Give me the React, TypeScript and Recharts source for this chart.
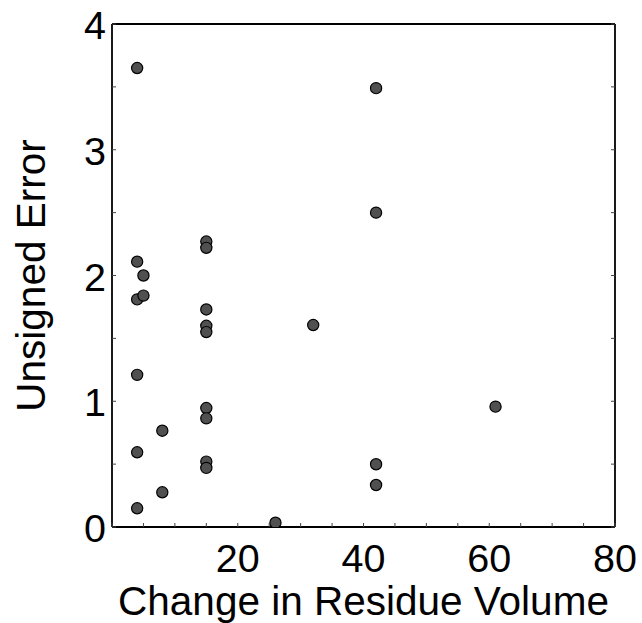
import React from 'react';
import { ScatterChart, Scatter, XAxis, YAxis, Label } from 'recharts';

const xValues = [4, 4, 4, 4, 4, 4, 5, 5, 8, 8, 15, 15, 15, 15, 15, 15, 15, 15, 15, 26, 32, 42, 42, 42, 42, 61];
const yValues = [3.65, 2.11, 1.81, 1.21, 0.594, 0.149, 2.0, 1.84, 0.766, 0.276, 2.27, 2.22, 1.73, 1.6, 1.55, 0.946, 0.864, 0.52, 0.47, 0.034, 1.606, 3.49, 2.5, 0.499, 0.334, 0.957];

const xTicks = [0, 5, 10, 15, 20, 25, 30, 35, 40, 45, 50, 55, 60, 65, 70, 75, 80];
const xTickLabels = [20, 40, 60, 80];
const yTicks = [0, 0.5, 1, 1.5, 2, 2.5, 3, 3.5, 4];
const yTickLabels = [0, 1, 2, 3, 4];

const xTitle = 'Change in Residue Volume';
const yTitle = 'Unsigned Error';

const data = xValues.map((x, i) => ({ x, y: yValues[i] }));

const FONT = '"Liberation Sans", Arial, Helvetica, sans-serif';
const TICK_FS = 39.5;
const TITLE_FS = 40.5;
const TICK_LEN = 4;
const TICK_COLOR = '#444';
const AXIS = { stroke: '#000', strokeWidth: 1.8 };

const BottomTick = (props: any) => {
  const { x, y, payload } = props;
  const v = payload.value;
  return (
    <g>
      <line x1={x} x2={x} y1={y} y2={y - TICK_LEN} stroke={TICK_COLOR} strokeWidth={1} />
      {xTickLabels.includes(v) && (
        <text x={x} y={y + 44.5} textAnchor="middle" fontSize={TICK_FS} fontFamily={FONT} fill="#000">
          {v}
        </text>
      )}
    </g>
  );
};

const TopTick = (props: any) => {
  const { x, y } = props;
  return <line x1={x} x2={x} y1={y} y2={y + TICK_LEN} stroke={TICK_COLOR} strokeWidth={1} />;
};

const LeftTick = (props: any) => {
  const { x, y, payload } = props;
  const v = payload.value;
  return (
    <g>
      <line x1={x} x2={x + TICK_LEN} y1={y} y2={y} stroke={TICK_COLOR} strokeWidth={1} />
      {yTickLabels.includes(v) && (
        <text x={x - 6} y={y + 15} textAnchor="end" fontSize={TICK_FS} fontFamily={FONT} fill="#000">
          {v}
        </text>
      )}
    </g>
  );
};

const RightTick = (props: any) => {
  const { x, y } = props;
  return <line x1={x} x2={x - TICK_LEN} y1={y} y2={y} stroke={TICK_COLOR} strokeWidth={1} />;
};

const XTitle = (props: any) => {
  const vb = props.viewBox || { x: 112, y: 527, width: 503, height: 96 };
  const cx = vb.x + vb.width / 2;
  const by = vb.y + 87.5;
  return (
    <text x={cx} y={by} textAnchor="middle" fontSize={TITLE_FS} fontFamily={FONT} fill="#000">
      {xTitle}
    </text>
  );
};

const YTitle = (props: any) => {
  const vb = props.viewBox || { x: 0, y: 24, width: 112, height: 503 };
  const bx = vb.x + 45;
  const cy = vb.y + vb.height / 2;
  return (
    <text x={bx} y={cy} transform={`rotate(-90 ${bx} ${cy})`} textAnchor="middle" fontSize={TITLE_FS} fontFamily={FONT} fill="#000">
      {yTitle}
    </text>
  );
};

const Marker = (props: any) => {
  const { cx, cy } = props;
  return <circle cx={cx} cy={cy} r={5.6} fill="#505050" stroke="#000" strokeWidth={1.2} />;
};

export default function App() {
  return (
    <div style={{ position: 'absolute', left: 0, top: 0, width: 642, height: 623, background: '#fff' }}>
      <ScatterChart width={642} height={623} margin={{ top: 0, right: 0, bottom: 0, left: 0 }}>
        <XAxis
          xAxisId="bottom"
          type="number"
          dataKey="x"
          domain={[0, 80]}
          allowDataOverflow
          ticks={xTicks}
          interval={0}
          height={96}
          tickSize={0}
          tickMargin={0}
          tickLine={false}
          axisLine={AXIS}
          tick={BottomTick}
        >
          <Label content={XTitle} />
        </XAxis>
        <XAxis
          xAxisId="top"
          orientation="top"
          type="number"
          domain={[0, 80]}
          allowDataOverflow
          ticks={xTicks}
          interval={0}
          height={24}
          tickSize={0}
          tickMargin={0}
          tickLine={false}
          axisLine={AXIS}
          tick={TopTick}
        />
        <YAxis
          yAxisId="left"
          type="number"
          dataKey="y"
          domain={[0, 4]}
          allowDataOverflow
          ticks={yTicks}
          interval={0}
          width={112}
          tickSize={0}
          tickMargin={0}
          tickLine={false}
          axisLine={AXIS}
          tick={LeftTick}
        >
          <Label content={YTitle} />
        </YAxis>
        <YAxis
          yAxisId="right"
          orientation="right"
          type="number"
          domain={[0, 4]}
          allowDataOverflow
          ticks={yTicks}
          interval={0}
          width={27}
          tickSize={0}
          tickMargin={0}
          tickLine={false}
          axisLine={AXIS}
          tick={RightTick}
        />
        <Scatter data={data} xAxisId="bottom" yAxisId="left" shape={Marker} isAnimationActive={false} />
      </ScatterChart>
    </div>
  );
}
